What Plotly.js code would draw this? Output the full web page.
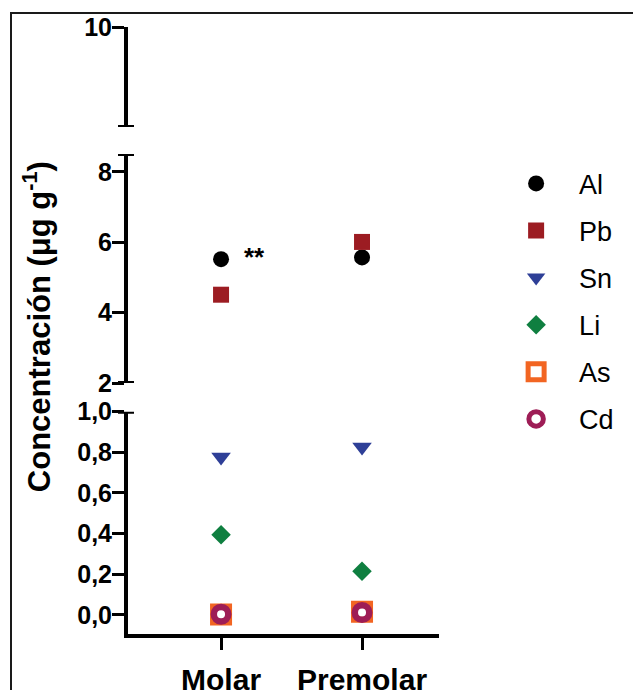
<!DOCTYPE html>
<html>
<head>
<meta charset="utf-8">
<script src="https://cdn.plot.ly/plotly-3.0.1.min.js"></script>
<style>
  html, body { margin: 0; padding: 0; background: #fff; }
  #wrap { position: relative; width: 633px; height: 690px; overflow: hidden; }
  #chart { position: absolute; left: 0; top: 0; width: 633px; height: 690px; }
  #frame { position: absolute; left: 10px; top: 12px; width: 700px; height: 700px;
           border-left: 2px solid #1a1a1a; border-top: 2px solid #1a1a1a; pointer-events: none; }
</style>
</head>
<body>
<div id="wrap">
  <div id="chart"></div>
  <div id="frame"></div>
</div>
<script>
// ---- data ----
const categories = ['Molar', 'Premolar'];
const categoryPos = [0, 1];
const alValues = [5.52, 5.57];
const pbValues = [4.51, 6.01];
const snValues = [0.777, 0.826];
const liValues = [0.394, 0.215];
const asValues = [0.002, 0.016];
const cdValues = [0.003, 0.012];
const lowTickVals = [0, 0.2, 0.4, 0.6, 0.8, 1.0];
const lowTickText = ['0,0', '0,2', '0,4', '0,6', '0,8', '1,0'];
const midTickVals = [2, 4, 6, 8];
const midTickText = ['2', '4', '6', '8'];
const topTickVals = [10];
const topTickText = ['10'];

const FONT = 'Arial, "Liberation Sans", sans-serif';

function tr(name, y, axis, symbol, color, size, lw) {
  const open = symbol.indexOf('open') >= 0;
  return {
    type: 'scatter', mode: 'markers', name: name,
    x: categoryPos, y: y, yaxis: axis, legendgroup: name,
    cliponaxis: false,
    marker: {
      symbol: symbol, size: size, color: color,
      line: { width: open ? lw : 0, color: color }
    }
  };
}

const data = [
  tr('Al', alValues, 'y2', 'circle', '#000000', 16),
  tr('Pb', pbValues, 'y2', 'square', '#9c1c22', 16),
  tr('Sn', snValues, 'y', 'triangle-down', '#2e3f97', 17),
  tr('Li', liValues, 'y', 'diamond', '#0f7f40', 15),
  tr('As', asValues, 'y', 'square-open', '#f26522', 16, 6),
  tr('Cd', cdValues, 'y', 'circle-open', '#9e1d56', 14.5, 6.5),
  { type: 'scatter', mode: 'markers', x: [], y: [], yaxis: 'y3', showlegend: false, hoverinfo: 'skip' }
];

const yCommon = {
  anchor: 'x', showline: true, linewidth: 4, linecolor: '#000',
  ticks: 'outside', ticklen: 12, tickwidth: 3, tickcolor: '#000',
  showgrid: false, zeroline: false, tickmode: 'array', ticklabelstandoff: -5,
  tickfont: { family: FONT, size: 25, color: '#000', weight: 'bold' }
};

const capX0 = -10 / 311, capX1 = 6 / 311;
function cap(yref, y) {
  return { type: 'line', xref: 'paper', yref: yref, x0: capX0, x1: capX1, y0: y, y1: y,
           line: { color: '#000', width: 4 } };
}

const layout = {
  width: 633, height: 690,
  margin: { l: 128, r: 194, t: 27, b: 56 },
  paper_bgcolor: '#fff', plot_bgcolor: 'rgba(0,0,0,0)',
  showlegend: true,
  xaxis: {
    range: [-0.66, 1.546], anchor: 'y', showline: true, linewidth: 4, linecolor: '#000',
    ticks: 'outside', ticklen: 12, tickwidth: 3, tickcolor: '#000',
    showgrid: false, zeroline: false, tickmode: 'array', ticklabelstandoff: 4,
    tickvals: categoryPos, ticktext: categories,
    tickfont: { family: FONT, size: 30, color: '#000', weight: 'bold' }
  },
  yaxis: Object.assign({}, yCommon, { domain: [0, 0.3662], range: [-0.094, 1.0],
    tickvals: lowTickVals, ticktext: lowTickText }),
  yaxis2: Object.assign({}, yCommon, { domain: [0.4135, 0.7908], range: [2, 8.51],
    tickvals: midTickVals, ticktext: midTickText }),
  yaxis3: Object.assign({}, yCommon, { domain: [0.8353, 1], range: [9, 10],
    tickvals: topTickVals, ticktext: topTickText }),
  shapes: [cap('y3', 9), cap('y2', 8.51), cap('y2', 2), cap('y', 1.0)],
  legend: {
    x: 1.174, y: 0.782, xanchor: 'left', yanchor: 'top',
    font: { family: FONT, size: 27, color: '#000' },
    itemwidth: 76, tracegroupgap: 9, bgcolor: 'rgba(0,0,0,0)', borderwidth: 0,
    itemclick: false
  },
  annotations: [
    { text: 'Concentración (μg g<sup>-1</sup>)', xref: 'paper', yref: 'paper',
      x: -0.292, y: 0.5058, xanchor: 'center', yanchor: 'middle', textangle: -90,
      showarrow: false, font: { family: FONT, size: 31, color: '#000', weight: 'bold' } },
    { text: '**', xref: 'x', yref: 'y2', x: categoryPos[0], y: alValues[0],
      xshift: 33, yshift: 2, showarrow: false,
      font: { family: FONT, size: 26, color: '#000', weight: 'bold' } }
  ]
};

Plotly.newPlot('chart', data, layout, { displayModeBar: false, staticPlot: true });
</script>
</body>
</html>
